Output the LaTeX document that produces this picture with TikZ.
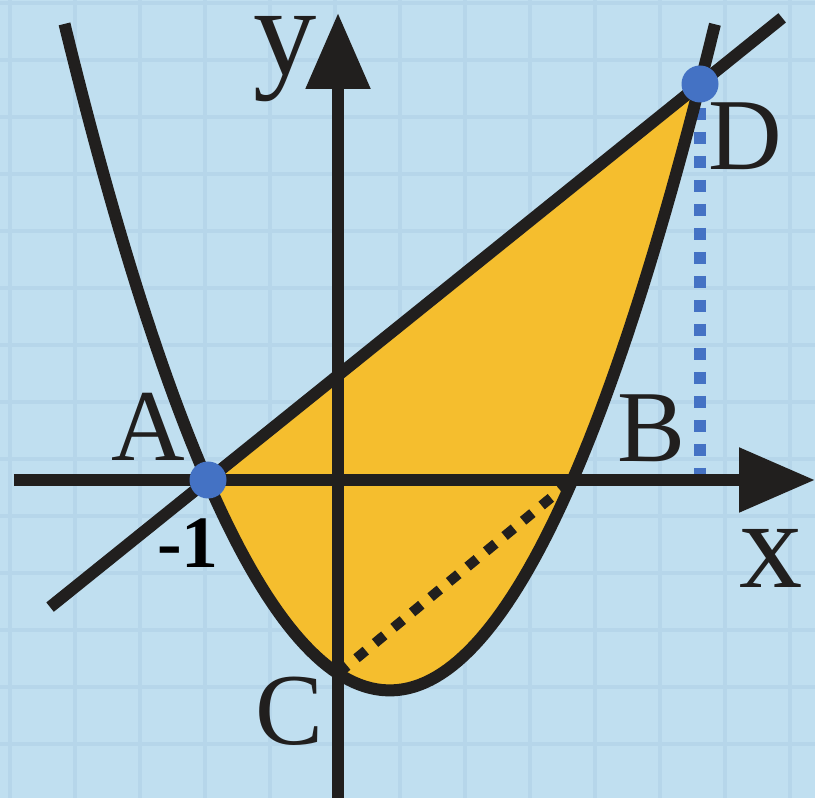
\documentclass[tikz,border=0pt]{standalone}
\usepackage{fontspec}
\setmainfont{Liberation Serif}
\usepackage{xcolor}
\usepackage{tikz}
\usetikzlibrary{calc, arrows.meta}

\definecolor{skyback}{RGB}{192,223,240}
\definecolor{gridblue}{RGB}{182,214,234}
\definecolor{gold}{RGB}{245,190,46}
\definecolor{ptblue}{RGB}{68,114,196}
\definecolor{ink}{RGB}{33,31,30}

\begin{document}
\begin{tikzpicture}[>={Triangle[length=7.6mm,width=6.2mm]},
    declare function={f(\x)=0.63*\x*\x-0.6521*\x-1.9353;},
    axis/.style={draw=ink, line width=1.2mm, ->},
    curve/.style={draw=ink, line width=1.2mm},
    gridln/.style={draw=gridblue, line width=0.35mm},
    dot/.style={circle, fill=ptblue, inner sep=0pt, minimum size=3.7mm},
    ptlbl/.style={inner sep=0pt, text=ink, font=\fontsize{29}{29}\selectfont},
    axlbl/.style={inner sep=0pt, text=ink, font=\fontsize{36}{36}\selectfont},
    numlbl/.style={inner sep=0pt, text=black, font=\fontsize{21}{21}\selectfont\bfseries}]
    \useasboundingbox (-3.38,-3.18) rectangle (4.77,4.80);
    \fill[skyback] (-3.38,-3.18) rectangle (4.77,4.80);
    \foreach \gx in {0,...,12}
        \draw[gridln] ({-3.28+0.65*\gx},-3.18) -- ({-3.28+0.65*\gx},4.80);
    \foreach \gy in {0,...,14}
        \draw[gridln] (-3.38,{4.77-0.57*\gy}) -- (4.77,{4.77-0.57*\gy});

    \coordinate (O) at (0,0);
    \coordinate (pA) at (-1.30,0);
    \coordinate (pB) at (2.345,0);
    \coordinate (pC) at (0,{f(0)});
    \coordinate (pD) at (3.62,3.96);
    \coordinate (pL1) at ($(pA)!-0.321!(pD)$);
    \coordinate (pL2) at ($(pA)!1.167!(pD)$);
    \coordinate (xs) at (-3.24,0);
    \coordinate (xe) at (4.77,0);
    \coordinate (ys) at (0,-3.25);
    \coordinate (ye) at (0,4.67);

    \fill[gold] plot[domain=-1.30:3.62, samples=80] (\x,{f(\x)}) -- cycle;
    \draw[ink, line width=1mm, dash pattern=on 1.2mm off 1.2mm] (pC) -- (pB);
    \draw[ptblue, line width=1.2mm, dash pattern=on 1.2mm off 1.2mm] (pD) -- (pD |- O);

    \draw[axis] (xs) -- (xe);
    \draw[axis] (ys) -- (ye);
    \draw[curve] (pL1) -- (pL2);
    \draw[curve] plot[domain=-2.735:3.77, samples=120] (\x,{f(\x)});

    \node[dot] (dotA) at (pA) {};
    \node[dot] (dotD) at (pD) {};

    \node[axlbl] (laby) at (-0.53,4.21) {y};
    \node[axlbl] (labx) at (4.33,-0.78) {x};
    \node[ptlbl] (labA) at (-1.90,0.53) {A};
    \node[ptlbl] (labB) at (3.13,0.52) {B};
    \node[ptlbl] (labC) at (-0.49,-2.31) {C};
    \node[ptlbl] (labD) at (4.07,3.44) {D};
    \node[numlbl] (labm) at (-1.50,-0.63) {-1};
\end{tikzpicture}
\end{document}
